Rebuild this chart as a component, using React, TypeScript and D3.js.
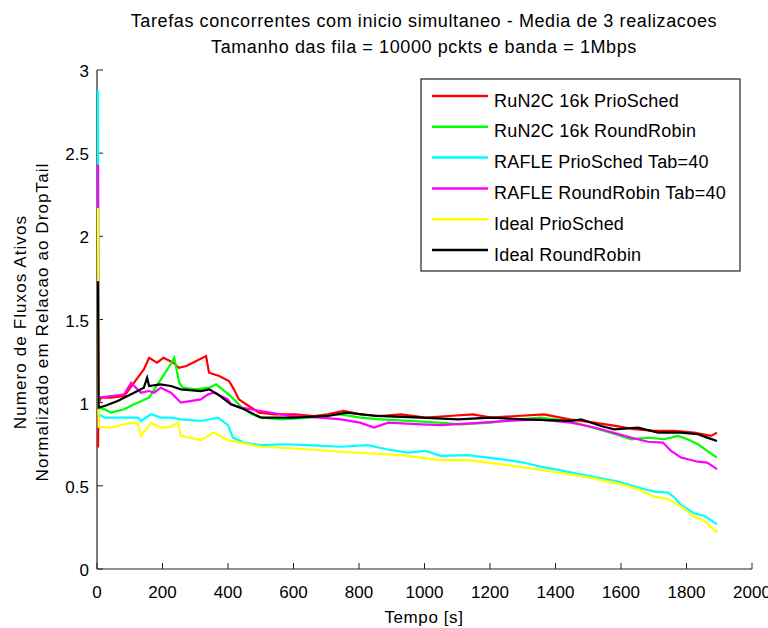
import React from "react";
import * as d3 from "d3";

const xTicks = [0, 200, 400, 600, 800, 1000, 1200, 1400, 1600, 1800, 2000];
const yTicks = [0, 0.5, 1, 1.5, 2, 2.5, 3];
const yTickLabels = ["0", "0.5", "1", "1.5", "2", "2.5", "3"];

const seriesNames = [
  "RuN2C 16k PrioSched",
  "RuN2C 16k RoundRobin",
  "RAFLE PrioSched Tab=40",
  "RAFLE RoundRobin Tab=40",
  "Ideal PrioSched",
  "Ideal RoundRobin",
];
const seriesColors = ["#ff0000", "#00ff00", "#00ffff", "#ff00ff", "#ffff00", "#000000"];

// [tempo, valor]
const red: [number, number][] = [
  [0, 0.73], [2, 1.0], [9, 1.03], [40, 1.03], [80, 1.04], [110, 1.12], [140, 1.2], [156, 1.27], [180, 1.24], [200, 1.27], [230, 1.24],
  [247, 1.21], [270, 1.22], [300, 1.25], [330, 1.28], [339, 1.18], [370, 1.16], [400, 1.13], [415, 1.08], [430, 1.02],
  [460, 0.98], [492, 0.94], [540, 0.93], [600, 0.93], [660, 0.92], [700, 0.93], [750, 0.95], [800, 0.93], [860, 0.92],
  [925, 0.93], [1000, 0.91], [1070, 0.92], [1145, 0.93], [1200, 0.91], [1280, 0.92], [1362, 0.93], [1440, 0.9],
  [1515, 0.88], [1580, 0.86], [1637, 0.84], [1700, 0.83], [1759, 0.83], [1820, 0.82], [1872, 0.8], [1890, 0.82],
];
const green: [number, number][] = [
  [0, 0.97], [20, 0.96], [40, 0.94], [80, 0.96], [110, 0.99], [156, 1.03], [192, 1.14], [215, 1.21], [233, 1.27],
  [248, 1.12], [259, 1.09], [300, 1.08], [340, 1.09], [360, 1.11], [380, 1.08], [410, 1.03], [440, 0.97], [470, 0.93],
  [500, 0.91], [560, 0.9], [640, 0.91], [742, 0.93], [800, 0.91], [864, 0.9], [950, 0.89], [1040, 0.88], [1108, 0.87],
  [1200, 0.88], [1280, 0.9], [1353, 0.91], [1440, 0.89], [1527, 0.84], [1580, 0.81], [1628, 0.78], [1680, 0.79],
  [1728, 0.78], [1771, 0.8], [1800, 0.78], [1832, 0.75], [1860, 0.71], [1890, 0.67],
];
const cyan: [number, number][] = [
  [0, 2.88], [2, 0.93], [20, 0.91], [80, 0.91], [122, 0.91], [131, 0.89], [162, 0.93], [192, 0.91], [223, 0.91],
  [253, 0.9], [314, 0.89], [366, 0.91], [397, 0.865], [412, 0.79], [446, 0.76], [498, 0.745], [570, 0.75], [641, 0.745],
  [742, 0.735], [824, 0.745], [880, 0.72], [946, 0.7], [1000, 0.71], [1047, 0.68], [1130, 0.685], [1252, 0.655],
  [1300, 0.64], [1352, 0.615], [1420, 0.59], [1485, 0.565], [1588, 0.525], [1650, 0.49], [1698, 0.465], [1740, 0.46],
  [1760, 0.43], [1780, 0.385], [1820, 0.335], [1851, 0.32], [1890, 0.27],
];
const magenta: [number, number][] = [
  [0, 2.43], [2, 1.03], [40, 1.04], [80, 1.05], [101, 1.12], [131, 1.06], [156, 1.07], [171, 1.06], [192, 1.09],
  [223, 1.06], [253, 1.0], [314, 1.02], [336, 1.05], [354, 1.06], [397, 1.02], [406, 0.99], [437, 0.97], [498, 0.95],
  [589, 0.92], [680, 0.91], [742, 0.9], [800, 0.88], [843, 0.85], [886, 0.88], [986, 0.87], [1047, 0.865],
  [1139, 0.875], [1250, 0.89], [1344, 0.9], [1444, 0.88], [1505, 0.855], [1536, 0.84], [1628, 0.79], [1679, 0.765],
  [1725, 0.76], [1750, 0.71], [1780, 0.67], [1832, 0.645], [1860, 0.64], [1890, 0.6],
];
const yellow: [number, number][] = [
  [0, 2.17], [2, 0.855], [40, 0.85], [80, 0.87], [110, 0.88], [122, 0.87], [131, 0.8], [147, 0.84], [162, 0.88],
  [192, 0.85], [223, 0.855], [244, 0.88], [253, 0.8], [314, 0.775], [354, 0.82], [397, 0.775], [446, 0.755],
  [498, 0.735], [641, 0.72], [742, 0.705], [925, 0.685], [1047, 0.655], [1130, 0.655], [1252, 0.625], [1352, 0.595],
  [1485, 0.555], [1588, 0.515], [1650, 0.48], [1698, 0.435], [1740, 0.42], [1780, 0.375], [1820, 0.315],
  [1851, 0.29], [1890, 0.22],
];
const black: [number, number][] = [
  [0, 1.73], [2, 0.97], [20, 0.98], [60, 1.01], [110, 1.06], [140, 1.09], [150, 1.15], [156, 1.1], [190, 1.11],
  [223, 1.1], [253, 1.08], [314, 1.07], [340, 1.08], [366, 1.05], [406, 0.99], [446, 0.96], [498, 0.91], [600, 0.91],
  [700, 0.92], [760, 0.94], [850, 0.92], [986, 0.91], [1100, 0.9], [1200, 0.91], [1300, 0.9], [1444, 0.89],
  [1475, 0.9], [1536, 0.86], [1576, 0.84], [1649, 0.85], [1710, 0.82], [1780, 0.82], [1832, 0.81], [1860, 0.79], [1890, 0.77],
];

const seriesData = [red, green, cyan, magenta, yellow, black];

const FONT = "'Liberation Sans', Arial, sans-serif";

export default function App() {
  const W = 768;
  const H = 628;
  const x = d3.scaleLinear().domain([0, 2000]).range([97, 752]);
  const y = d3.scaleLinear().domain([0, 3]).range([569, 70]);
  const line = d3
    .line<[number, number]>()
    .x((d) => x(d[0]) + 1)
    .y((d) => y(d[1]))
    .curve(d3.curveLinear);

  const legX = 421;
  const legY = 79;
  const legW = 319;
  const legH = 192;

  return (
    <svg
      width={W}
      height={H}
      style={{ position: "absolute", left: 0, top: 0, background: "#fff" }}
      fontFamily={FONT}
    >
      <rect x={0} y={0} width={W} height={H} fill="#fff" />
      <text x={424} y={27} textAnchor="middle" fontSize={18} letterSpacing={0.6} fill="#000">
        Tarefas concorrentes com inicio simultaneo - Media de 3 realizacoes
      </text>
      <text x={424} y={53} textAnchor="middle" fontSize={18} letterSpacing={0.6} fill="#000">
        Tamanho das fila = 10000 pckts e banda = 1Mbps
      </text>

      {/* axes */}
      <line x1={x(0)} x2={x(2000)} y1={y(0)} y2={y(0)} stroke="#222" strokeWidth={1.2} />
      <line x1={x(0)} x2={x(0)} y1={y(0)} y2={y(3)} stroke="#222" strokeWidth={1.2} />
      {xTicks.map((t) => (
        <g key={"xt" + t}>
          <line x1={x(t)} x2={x(t)} y1={y(0)} y2={y(0) - 6} stroke="#222" strokeWidth={1} />
          <text x={x(t)} y={y(0) + 29} textAnchor="middle" fontSize={17} fill="#000">
            {t}
          </text>
        </g>
      ))}
      {yTicks.map((t, i) => (
        <g key={"yt" + t}>
          <line x1={x(0)} x2={x(0) + 6} y1={y(t)} y2={y(t)} stroke="#222" strokeWidth={1} />
          <text x={89} y={y(t) + 7} textAnchor="end" fontSize={17} fill="#000">
            {yTickLabels[i]}
          </text>
        </g>
      ))}

      {seriesData.map((s, i) => (
        <path
          key={i}
          d={line(s) || ""}
          fill="none"
          stroke={seriesColors[i]}
          strokeWidth={2.2}
          strokeLinejoin="miter"
        />
      ))}

      <text x={424} y={623} textAnchor="middle" fontSize={17} letterSpacing={0.6} fill="#000">
        Tempo [s]
      </text>
      <text
        transform={`translate(26,${322}) rotate(-90)`}
        textAnchor="middle"
        fontSize={17}
        letterSpacing={1.1}
        fill="#000"
      >
        Numero de Fluxos Ativos
      </text>
      <text
        transform={`translate(48,${322}) rotate(-90)`}
        textAnchor="middle"
        fontSize={17}
        letterSpacing={1.1}
        fill="#000"
      >
        Normalizado em Relacao ao DropTail
      </text>

      {/* legend */}
      <rect x={legX} y={legY} width={legW} height={legH} fill="#fff" stroke="#222" strokeWidth={1.2} />
      {seriesNames.map((n, i) => {
        const ry = 96 + i * 30.8;
        return (
          <g key={n}>
            <line x1={432} x2={488} y1={ry} y2={ry} stroke={seriesColors[i]} strokeWidth={2.5} />
            <text x={494} y={ry + 10.5} fontSize={18} letterSpacing={0.2} fill="#000">
              {n}
            </text>
          </g>
        );
      })}
    </svg>
  );
}
